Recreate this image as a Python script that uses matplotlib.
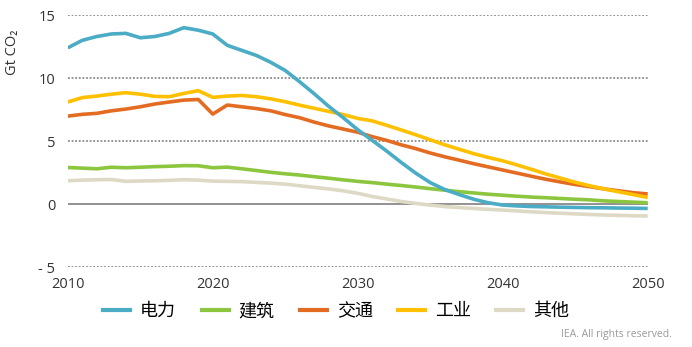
import numpy as np
import matplotlib.pyplot as plt
from matplotlib.lines import Line2D

years = np.arange(2010, 2051)

power = [12.4, 13.0, 13.3, 13.5, 13.55, 13.2, 13.3, 13.55, 14.0, 13.8,
         13.5, 12.6, 12.2, 11.8, 11.25, 10.6, 9.7, 8.75, 7.75, 6.85,
         5.9, 5.05, 4.2, 3.3, 2.45, 1.7, 1.15, 0.75, 0.38, 0.1,
         -0.08, -0.15, -0.2, -0.22, -0.25, -0.27, -0.29, -0.3, -0.32, -0.33, -0.35]
buildings = [2.9, 2.85, 2.8, 2.92, 2.88, 2.92, 2.97, 3.0, 3.05, 3.04,
             2.88, 2.93, 2.8, 2.66, 2.52, 2.4, 2.3, 2.17, 2.05, 1.92,
             1.8, 1.7, 1.58, 1.47, 1.35, 1.22, 1.1, 0.98, 0.88, 0.78,
             0.7, 0.62, 0.55, 0.5, 0.44, 0.38, 0.33, 0.25, 0.2, 0.15, 0.1]
transport = [6.98, 7.12, 7.2, 7.4, 7.54, 7.72, 7.94, 8.1, 8.25, 8.3,
             7.14, 7.86, 7.72, 7.58, 7.4, 7.1, 6.85, 6.5, 6.2, 5.95,
             5.7, 5.35, 5.05, 4.7, 4.4, 4.05, 3.75, 3.48, 3.2, 2.95,
             2.7, 2.45, 2.2, 1.96, 1.75, 1.55, 1.38, 1.2, 1.05, 0.9, 0.8]
industry = [8.1, 8.45, 8.57, 8.72, 8.84, 8.72, 8.55, 8.52, 8.78, 9.0,
            8.47, 8.57, 8.62, 8.52, 8.35, 8.12, 7.85, 7.6, 7.35, 7.1,
            6.8, 6.6, 6.25, 5.88, 5.5, 5.1, 4.7, 4.35, 4.0, 3.7,
            3.43, 3.1, 2.75, 2.38, 2.05, 1.73, 1.45, 1.2, 0.97, 0.75, 0.52]
other = [1.85, 1.9, 1.93, 1.95, 1.8, 1.83, 1.85, 1.88, 1.93, 1.9,
         1.82, 1.8, 1.78, 1.72, 1.66, 1.58, 1.45, 1.32, 1.2, 1.05,
         0.85, 0.6, 0.4, 0.2, 0.05, -0.08, -0.2, -0.28, -0.35, -0.42,
         -0.48, -0.55, -0.62, -0.68, -0.73, -0.78, -0.83, -0.87, -0.9, -0.93, -0.95]

names = ['电力', '建筑', '交通', '工业', '其他']
colors = ['#4BACC6', '#8CC63F', '#E46C22', '#FFC000', '#DDD9C4']
series = [power, buildings, transport, industry, other]
draw_order = [4, 1, 2, 3, 0]

y_ticks = [-5, 0, 5, 10, 15]
y_labels = ['- 5', '0', '5', '10', '15']
x_ticks = [2010, 2020, 2030, 2040, 2050]

plt.rcParams['font.family'] = ['Open Sans', 'DejaVu Sans']

fig = plt.figure(figsize=(6.92, 3.47), dpi=100)
ax = fig.add_axes([0.098, 0.2305, 0.838, 0.726])

for yv in y_ticks:
    if yv == 0:
        ax.axhline(yv, color='#7f7f7f', lw=1.2, zorder=1)
    else:
        ax.axhline(yv, color='#8a8a8a', lw=1.3, ls=(0, (1, 1)), zorder=1)

for i in draw_order:
    ax.plot(years, series[i], color=colors[i], lw=2.6, zorder=3,
            solid_capstyle='butt')

ax.set_xlim(2010, 2050)
ax.set_ylim(-5, 15)
ax.set_xticks(x_ticks)
ax.set_xticklabels([str(x) for x in x_ticks])
ax.set_yticks(y_ticks)
ax.set_yticklabels(y_labels)
ax.tick_params(length=0, labelsize=10.5, colors='#333333')
ax.tick_params(axis='y', pad=9)
ax.tick_params(axis='x', pad=7)
for s in ax.spines.values():
    s.set_visible(False)
ax.set_ylabel('Gt CO₂', fontsize=10.5, color='#333333')
ax.yaxis.set_label_coords(-0.083, 0.853)

handles = [Line2D([], [], color=c, lw=3) for c in colors]
fig.legend(handles, names, loc='center', bbox_to_anchor=(0.486, 0.103),
           ncol=5, frameon=False, handlelength=1.5, columnspacing=1.4,
           handletextpad=0.55,
           prop={'family': ['Noto Sans CJK SC', 'DejaVu Sans'], 'size': 13})

fig.text(0.971, 0.035, 'IEA. All rights reserved.', ha='right', va='center',
         fontsize=7.5, color='#9a9a9a')

fig.savefig('out.png', dpi=100)
